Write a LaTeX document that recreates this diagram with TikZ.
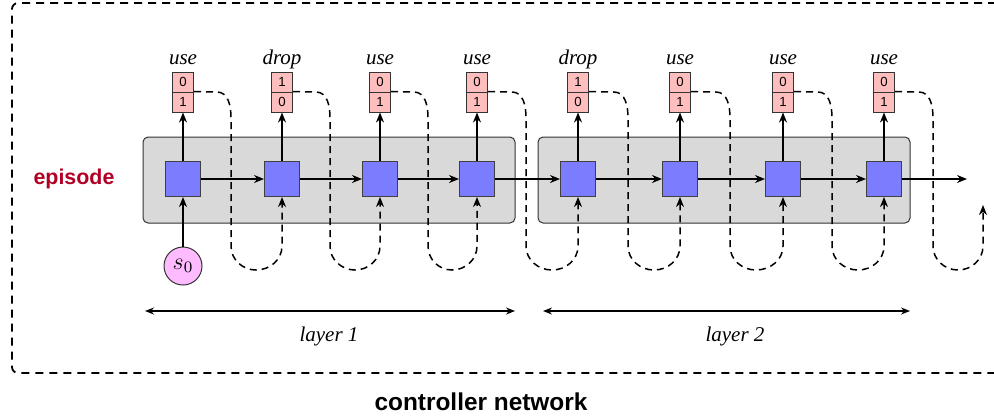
\documentclass[tikz,border=0pt]{standalone}
\usepackage{fontspec}
\setmainfont{Liberation Serif}
\setsansfont{Liberation Sans}
\usetikzlibrary{arrows.meta}
\definecolor{epired}{RGB}{178,0,36}
\definecolor{sqblue}{RGB}{124,124,255}
\definecolor{cellpink}{RGB}{255,190,190}
\definecolor{spink}{RGB}{255,187,255}
\definecolor{layergray}{RGB}{217,217,217}
\begin{document}
\begin{tikzpicture}[x=0.5pt,y=-0.5pt,
  sq/.style={draw=black!75, fill=sqblue, minimum size=17.5pt, inner sep=0pt, line width=0.5pt},
  cell/.style={draw=black!80, fill=cellpink, minimum width=10.5pt, minimum height=10pt, inner sep=0pt,
    font=\sffamily\fontsize{6.6}{7}\selectfont, line width=0.5pt},
  act/.style={font=\itshape\fontsize{10.5}{12}\selectfont, anchor=base, inner sep=0pt},
  flow/.style={-{Stealth[length=5pt,width=4pt]}, line width=0.8pt},
  dloop/.style={flow, dash pattern=on 3.5pt off 2.5pt, line width=0.75pt},
  layerbox/.style={draw=black!80, fill=layergray, rounded corners=2.5pt, line width=0.5pt,
    minimum width=186pt, minimum height=43pt, inner sep=0pt},
  span/.style={{Stealth[length=4.5pt,width=3.5pt]}-{Stealth[length=4.5pt,width=3.5pt]}, line width=0.7pt},
]
\useasboundingbox (0,0) rectangle (994,419);

% outer dashed frame
\draw[dash pattern=on 4pt off 3pt, line width=0.9pt, rounded corners=3pt]
  (1010,3) -- (12,3) -- (12,373) -- (1010,373);

% layer boxes
\node[layerbox] (L1) at (329,180) {};
\node[layerbox] (L2) at (724,180) {};

% squares, cells, labels
\foreach \i/\x/\a/\tp/\bt in {1/183/use/0/1, 2/282/drop/1/0, 3/380/use/0/1, 4/477/use/0/1,
                              5/578/drop/1/0, 6/680/use/0/1, 7/783/use/0/1, 8/884/use/0/1}{
  \node[sq] (q\i) at (\x,179) {};
  \node[cell] (t\i) at (\x,82) {\tp};
  \node[cell] (b\i) at (\x,102) {\bt};
  \node[act] (a\i) at (\x,64) {\a};
  \draw[flow] (q\i.north) -- (b\i.south);
}

% horizontal flow
\foreach \i/\j in {1/2,2/3,3/4,4/5,5/6,6/7,7/8}{
  \draw[flow] (q\i) -- (q\j);
}
\coordinate (e8) at (967,179);
\draw[flow] (q8) -- (e8);

% dashed feedback loops
\coordinate (e9) at (983,205);
\foreach \i/\xv/\xm/\xj/\tg in {1/231/256/282/q2.south, 2/330/355/380/q3.south, 3/428/452/477/q4.south,
    4/526/552/578/q5.south, 5/628/654/680/q6.south, 6/730/756/783/q7.south, 7/832/858/884/q8.south,
    8/933/958/983/e9}{
  \draw[dloop] (b\i.north east) -- (\xv-14,92) to[out=0,in=90] (\xv,118) -- (\xv,246)
    to[out=-90,in=180] (\xm,270) to[out=0,in=-90] (\xj,246) -- (\tg);
}

% s0
\node[circle, draw=black!80, fill=spink, minimum size=19pt, inner sep=0pt, line width=0.5pt,
  font=\fontsize{12}{14}\selectfont] (s0) at (183,266) {$s_0$};
\draw[flow] (s0) -- (q1);

% episode label
\node[font=\sffamily\bfseries\fontsize{10.7}{12}\selectfont, text=epired, anchor=base, inner sep=0pt]
  (ep) at (74,184) {episode};

% layer spans
\coordinate (s1a) at (145,311); \coordinate (s1b) at (515,311);
\coordinate (s2a) at (543,311); \coordinate (s2b) at (910,311);
\draw[span] (s1a) -- (s1b);
\draw[span] (s2a) -- (s2b);
\node[act] (lay1) at (329,341) {layer 1};
\node[act] (lay2) at (735,341) {layer 2};

% title
\node[font=\sffamily\bfseries\fontsize{12.2}{14}\selectfont, anchor=base, inner sep=0pt]
  (cn) at (481,410) {controller network};
\end{tikzpicture}
\end{document}
